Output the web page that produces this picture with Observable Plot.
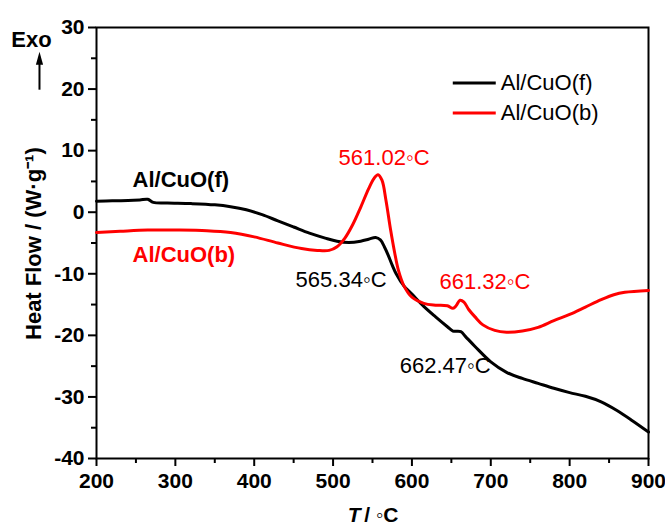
<!DOCTYPE html>
<html><head><meta charset="utf-8">
<script src="https://cdn.jsdelivr.net/npm/d3@7"></script>
<script src="https://cdn.jsdelivr.net/npm/@observablehq/plot@0.6"></script>
<style>
body{margin:0;background:#fff}
svg{font-family:"Liberation Sans",Arial,sans-serif}
</style>
</head><body><div id="chart"></div>
<script>
// ---- data ----
const seriesNames = ["Al/CuO(f)", "Al/CuO(b)"];
const seriesColors = ["#000000", "#ff0000"];

const tempF = [200,220,240,255,265,272,290,320,350,370,390,410,430,450,470,490,505,520,535,545,554,560,565,570,575,580,590,600,615,630,645,652,662,668,680,700,720,740,760,780,800,820,840,860,880,900];
const heatF = [1.8,1.85,1.9,2.0,2.1,1.6,1.5,1.4,1.2,0.9,0.4,-0.4,-1.4,-2.4,-3.4,-4.2,-4.7,-4.9,-4.7,-4.4,-4.1,-4.5,-5.6,-7.0,-8.6,-10.0,-12.0,-13.3,-15.3,-17.0,-18.6,-19.3,-19.4,-20.2,-21.8,-24.3,-26.0,-27.0,-27.8,-28.6,-29.3,-29.9,-30.8,-32.2,-33.9,-35.7];

const tempB = [200,230,265,300,340,370,400,430,460,480,495,505,515,525,535,545,552,557,562,567,573,578,583,590,600,615,630,645,652,656,661,666,672,680,690,705,720,740,760,780,800,820,840,856,870,900];
const heatB = [-3.3,-3.1,-2.9,-2.9,-3.0,-3.3,-4.0,-5.0,-5.9,-6.2,-6.2,-5.6,-4.2,-2.0,0.8,3.8,5.5,6.1,5.2,2.0,-2.9,-6.5,-9.5,-12.0,-13.8,-14.8,-15.1,-15.2,-15.6,-15.2,-14.3,-14.6,-15.8,-17.0,-18.3,-19.2,-19.5,-19.3,-18.7,-17.6,-16.6,-15.4,-14.2,-13.4,-13.0,-12.7];

const xTicks = [200,300,400,500,600,700,800,900];
const xMinor = [250,350,450,550,650,750,850];
const yTicks = [-40,-30,-20,-10,0,10,20,30];
const yMinor = [-35,-25,-15,-5,5,15,25];

// peak annotations (anchor in data units)
const peakText  = ["561.02\u25E6C","565.34\u25E6C","661.32\u25E6C","662.47\u25E6C"];
const peakT     = [507, 452.5, 635, 584.5];
const peakV     = [8.8, -11.0, -11.3, -25.0];
const peakSeries= [1, 0, 1, 0];

// curve name labels
const nameT = [245.7, 245.7];
const nameV = [5.2, -6.9];

// legend anchors
const legendT1 = 651.8, legendT2 = 706.3, legendTextT = 712.7;
const legendV = [21.0, 16.1];

// ---- build tables ----
const rowsF = tempF.map((t,i)=>({t, v:heatF[i]}));
const rowsB = tempB.map((t,i)=>({t, v:heatB[i]}));
const peaks = peakText.map((s,i)=>({s, t:peakT[i], v:peakV[i], c:seriesColors[peakSeries[i]]}));
const names = seriesNames.map((s,i)=>({s, t:nameT[i], v:nameV[i], c:seriesColors[i]}));
const legend = seriesNames.map((s,i)=>({s, v:legendV[i], c:seriesColors[i]}));

const narrowTriangle = {draw(ctx){ ctx.moveTo(0,-6.5); ctx.lineTo(3.6,6.5); ctx.lineTo(-3.6,6.5); ctx.closePath(); }};

const chart = Plot.plot({
  width: 665, height: 530,
  marginLeft: 96, marginRight: 17, marginTop: 27, marginBottom: 72,
  style: {background:"#fff", color:"#000", fontFamily:"'Liberation Sans',Arial,sans-serif"},
  x: {domain:[200,900]},
  y: {domain:[-40,30]},
  marks: [
    Plot.frame({stroke:"#000", strokeWidth:2}),
    // axes
    Plot.axisX({ticks:xTicks, tickSize:8, tickPadding:7, strokeWidth:2, fontSize:21, fontWeight:"bold", tickFormat:d=>String(d), label:null}),
    Plot.axisX({ticks:xMinor, tickSize:5, strokeWidth:2, text:null, label:null}),
    Plot.axisY({ticks:yTicks, tickSize:8, tickPadding:4, strokeWidth:2, fontSize:21, fontWeight:"bold", tickFormat:d=>String(d), label:null}),
    Plot.axisY({ticks:yMinor, tickSize:5, strokeWidth:2, text:null, label:null}),
    // curves
    Plot.line(rowsF, {x:"t", y:"v", stroke:seriesColors[0], strokeWidth:3, curve:"catmull-rom"}),
    Plot.line(rowsB, {x:"t", y:"v", stroke:seriesColors[1], strokeWidth:3, curve:"catmull-rom"}),
    // curve names
    Plot.text(names, {x:"t", y:"v", text:"s", fill:"c", textAnchor:"start", fontSize:22, fontWeight:"bold"}),
    // peak labels
    Plot.text(peaks, {x:"t", y:"v", text:"s", fill:"c", textAnchor:"start", fontSize:22}),
    // legend
    Plot.link(legend, {x1:()=>legendT1, x2:()=>legendT2, y1:"v", y2:"v", stroke:"c", strokeWidth:3}),
    Plot.text(legend, {x:()=>legendTextT, y:"v", text:"s", fill:"#000", textAnchor:"start", fontSize:22}),
    // axis titles
    Plot.text(["Heat Flow / (W\u00B7g\u207B\u00B9)"], {x:()=>120.7, y:()=>-5.1, text:d=>d, rotate:-90, fontSize:22, fontWeight:"bold", clip:false}),
    Plot.text(["T"], {x:()=>518.5, y:()=>-49.3, text:d=>d, textAnchor:"start", fontSize:21, fontWeight:"bold", fontStyle:"italic", clip:false}),
    Plot.text(["/ \u25E6C"], {x:()=>539.5, y:()=>-49.3, text:d=>d, textAnchor:"start", fontSize:21, fontWeight:"bold", clip:false}),
    // Exo arrow
    Plot.text(["Exo"], {x:()=>117.5, y:()=>28.0, text:d=>d, fontSize:22, fontWeight:"bold", clip:false}),
    Plot.link([0], {x1:()=>127.7, x2:()=>127.7, y1:()=>19.9, y2:()=>24.4, stroke:"#000", strokeWidth:2, clip:false}),
    Plot.dot([0], {x:()=>127.7, y:()=>25.0, symbol:narrowTriangle, fill:"#000", stroke:"none", r:4, clip:false})
  ]
});
document.getElementById("chart").append(chart);
</script>
</body></html>
